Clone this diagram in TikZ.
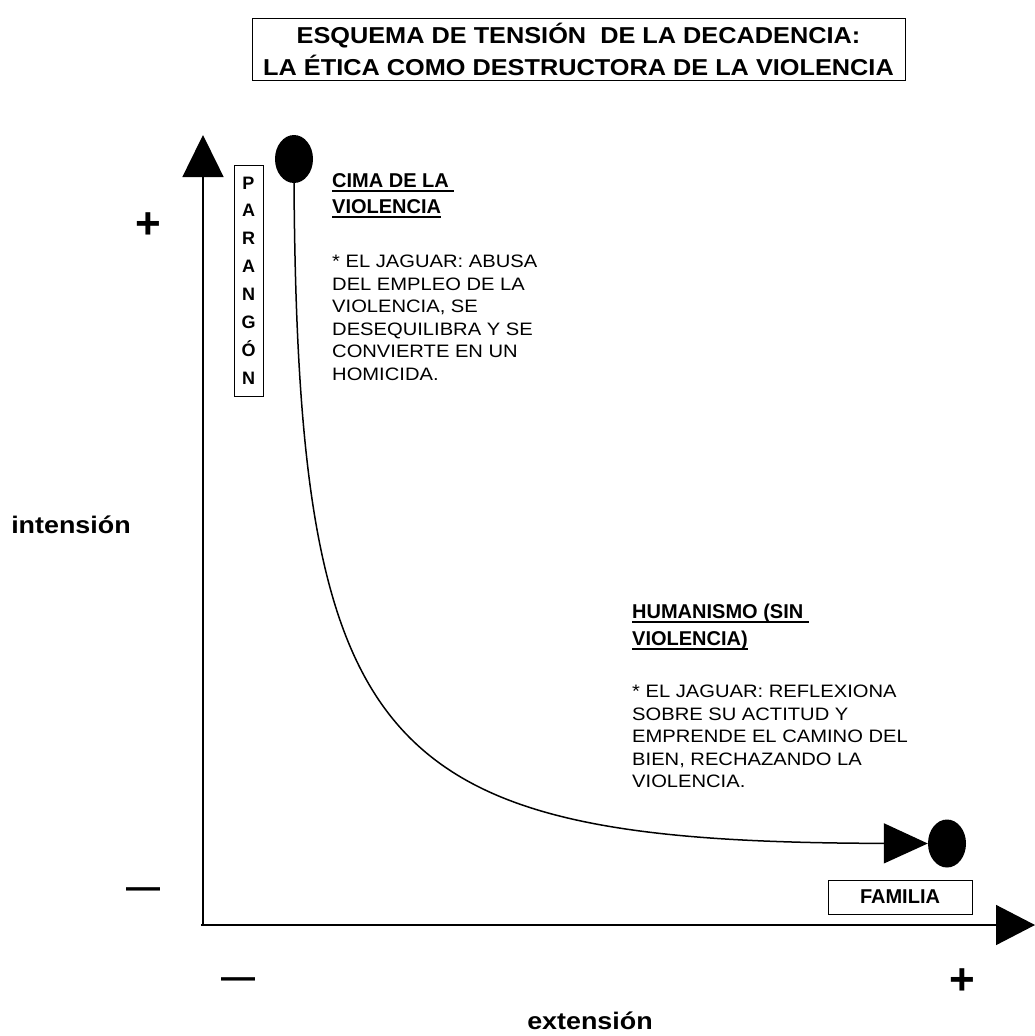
\documentclass[tikz,border=0pt]{standalone}
\usepackage{fontspec}
\setmainfont{Liberation Sans}
\newfontfamily\anchafont[FakeStretch=1.12]{Liberation Sans}
\newfontfamily\titulofont[FakeStretch=1.1]{Liberation Sans}
\usepackage{tikz}
\usetikzlibrary{shapes.geometric, arrows.meta, positioning}
\newsavebox{\cajasub}
\newcommand{\subrayado}[1]{\sbox{\cajasub}{#1}\rlap{\rule[-4.5pt]{\wd\cajasub}{1.7pt}}\usebox{\cajasub}}

\begin{document}
\begin{tikzpicture}[x=1pt,y=-1pt,
	caja/.style={draw, line width=0.9pt, inner sep=0pt},
	punto/.style={ellipse, fill=black, inner sep=0pt, minimum width=38pt, minimum height=48pt},
	rotulo/.style={anchor=north west, inner sep=0pt, align=left, font=\bfseries\fontsize{20}{26.5}\selectfont},
	texto/.style={anchor=north west, inner sep=0pt, align=left, font=\anchafont\fontsize{18}{22.5}\selectfont},
	signo/.style={inner sep=0pt, font=\bfseries\fontsize{44}{44}\selectfont},
	raya/.style={inner sep=0pt, font=\bfseries\fontsize{34}{34}\selectfont}]
	\useasboundingbox (0,0) rectangle (1035,1036);
	
	% Title
	\node[caja, minimum width=653pt, minimum height=62pt, align=center,
		font=\titulofont\bfseries\fontsize{23}{32}\selectfont] (titulo) at (578.5,49)
		{ESQUEMA DE TENSIÓN\ \ DE LA DECADENCIA:\\LA ÉTICA COMO DESTRUCTORA DE LA VIOLENCIA};
	
	% Draw the axes
	\coordinate (origen) at (203,925);
	\coordinate (ytope) at (203,135);
	\coordinate (xtope) at (1035,925);
	\draw[line width=1.5pt, -{Triangle[length=42pt,width=41pt]}] (origen) -- (ytope);
	\draw[line width=1.5pt, -{Triangle[length=39pt,width=40pt]}] ([xshift=-2pt]origen) -- (xtope);
	
	% Labels for the axes
	\node[font=\anchafont\bfseries\fontsize{24}{24}\selectfont] (intension) at (71,525) {intensión};
	\node[font=\anchafont\bfseries\fontsize{24}{24}\selectfont, anchor=base] (extension) at (590,1029) {extensión};
	\node[signo] (masy) at (148,226) {+};
	\node[raya] (menosy) at (143,893) {—};
	\node[raya] (menosx) at (238,983) {—};
	\node[signo] (masx) at (962,982) {+};
	
	% The curve from the top to the family
	\node[punto] (cima) at (294,159) {};
	\node[punto] (familia) at (947,843.5) {};
	\draw[line width=1.5pt, -{Triangle[length=44pt,width=40pt]}] (cima.south)
		.. controls (298,760) and (380,842) .. (familia.west);
	
	\node[caja, minimum width=29pt, minimum height=231pt, align=center,
		font=\bfseries\fontsize{18}{27.9}\selectfont] (parangon) at (248.5,280.5)
		{P\\A\\R\\A\\N\\G\\Ó\\N};
	\node[caja, minimum width=144pt, minimum height=34pt,
		font=\bfseries\fontsize{20}{24}\selectfont] (famtxt) at (900,897) {FAMILIA};
	
	% Texts
	\node[rotulo] (cimatit) at (332,173) {\subrayado{CIMA DE LA\ }\\\subrayado{VIOLENCIA}};
	\node[texto] (cimatxt) at (332,255) {* EL JAGUAR: ABUSA\\DEL EMPLEO DE LA\\VIOLENCIA, SE\\DESEQUILIBRA Y SE\\CONVIERTE EN UN\\HOMICIDA.};
	\node[rotulo] (humtit) at (632,604) {\subrayado{HUMANISMO (SIN\ }\\\subrayado{VIOLENCIA)}};
	\node[texto] (humtxt) at (632,685) {* EL JAGUAR: REFLEXIONA\\SOBRE SU ACTITUD Y\\EMPRENDE EL CAMINO DEL\\BIEN, RECHAZANDO LA\\VIOLENCIA.};
\end{tikzpicture}
\end{document}
